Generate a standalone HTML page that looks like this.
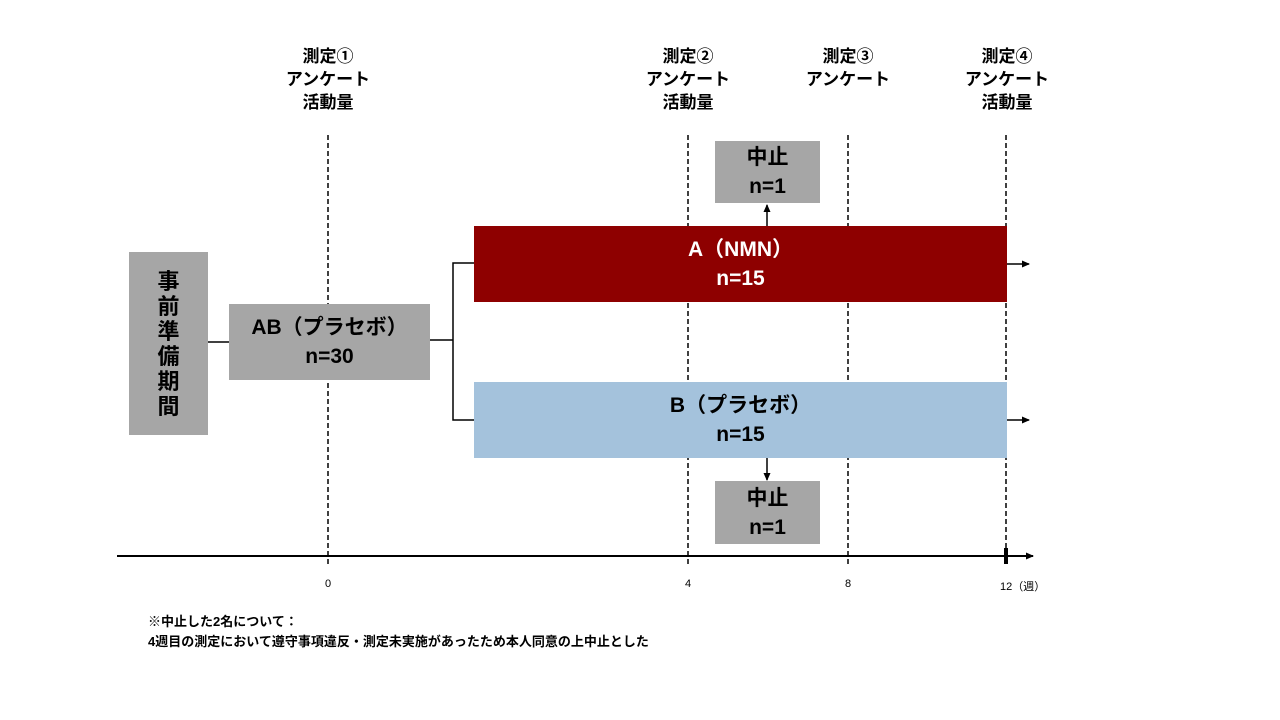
<!DOCTYPE html>
<html><head><meta charset="utf-8"><style>
body{margin:0;width:1280px;height:720px;background:#fff;position:relative;overflow:hidden;font-family:"Liberation Sans","Noto Sans CJK JP",sans-serif;font-weight:bold;color:#000}
.a{position:absolute}
.box{position:absolute;display:flex;flex-direction:column;align-items:center;justify-content:center;text-align:center;font-size:21px;line-height:29px}
.lbl{position:absolute;width:140px;text-align:center;font-size:17px;line-height:23px}
.t{position:absolute;font-size:11px;width:40px;text-align:center;font-weight:normal}
</style></head><body>
<svg class="a" style="left:0;top:0" width="1280" height="720">
<defs><marker id="ar" markerWidth="8" markerHeight="8" refX="7" refY="4" orient="auto" markerUnits="userSpaceOnUse"><path d="M0,0.5 L8,4 L0,7.5z" fill="#000"/></marker></defs>
<g stroke="#000" stroke-width="1.5" stroke-dasharray="5,3">
<line x1="328" y1="135" x2="328" y2="564"/>
<line x1="688" y1="135" x2="688" y2="564"/>
<line x1="848" y1="135" x2="848" y2="564"/>
<line x1="1006" y1="135" x2="1006" y2="556"/>
</g>
<line x1="117" y1="556" x2="1033" y2="556" stroke="#000" stroke-width="2" marker-end="url(#ar)"/>
<line x1="1006" y1="548" x2="1006" y2="564" stroke="#000" stroke-width="4"/>
<g stroke="#000" stroke-width="1.5" fill="none">
<line x1="208" y1="342" x2="229" y2="342"/>
<line x1="430" y1="340" x2="453" y2="340"/>
<polyline points="474,263 453,263 453,420 474,420"/>
</g>
</svg>
<div class="box" style="left:129px;top:252px;width:79px;height:183px;background:#a6a6a6;font-size:22px;line-height:25px">事<br>前<br>準<br>備<br>期<br>間</div>
<div class="box" style="left:229px;top:304px;width:201px;height:76px;background:#a6a6a6">AB（プラセボ）<br>n=30</div>
<div class="box" style="left:474px;top:226px;width:533px;height:76px;background:#8e0000;color:#fff">A（NMN）<br>n=15</div>
<div class="box" style="left:474px;top:382px;width:533px;height:76px;background:#a4c2dc">B（プラセボ）<br>n=15</div>
<div class="box" style="left:715px;top:141px;width:105px;height:62px;background:#a6a6a6">中止<br>n=1</div>
<div class="box" style="left:715px;top:481px;width:105px;height:63px;background:#a6a6a6">中止<br>n=1</div>
<svg class="a" style="left:0;top:0" width="1280" height="720">
<defs><marker id="ar2" markerWidth="8" markerHeight="8" refX="7" refY="4" orient="auto" markerUnits="userSpaceOnUse"><path d="M0,0.5 L8,4 L0,7.5z" fill="#000"/></marker></defs>
<g stroke="#000" stroke-width="1.5">
<line x1="767" y1="226" x2="767" y2="205" marker-end="url(#ar2)"/>
<line x1="767" y1="458" x2="767" y2="480" marker-end="url(#ar2)"/>
<line x1="1007" y1="264" x2="1029" y2="264" marker-end="url(#ar2)"/>
<line x1="1007" y1="420" x2="1029" y2="420" marker-end="url(#ar2)"/>
</g>
</svg>
<div class="lbl" style="left:258px;top:45px">測定①<br>アンケート<br>活動量</div>
<div class="lbl" style="left:618px;top:45px">測定②<br>アンケート<br>活動量</div>
<div class="lbl" style="left:778px;top:45px">測定③<br>アンケート</div>
<div class="lbl" style="left:937px;top:45px">測定④<br>アンケート<br>活動量</div>
<div class="t" style="left:308px;top:578px">0</div>
<div class="t" style="left:668px;top:578px">4</div>
<div class="t" style="left:828px;top:578px">8</div>
<div class="a" style="left:1000px;top:578px;font-size:11px;font-weight:normal">12（週）</div>
<div class="a" style="left:148px;top:612px;font-size:13px;line-height:20px">※中止した2名について：<br>4週目の測定において遵守事項違反・測定未実施があったため本人同意の上中止とした</div>
</body></html>
